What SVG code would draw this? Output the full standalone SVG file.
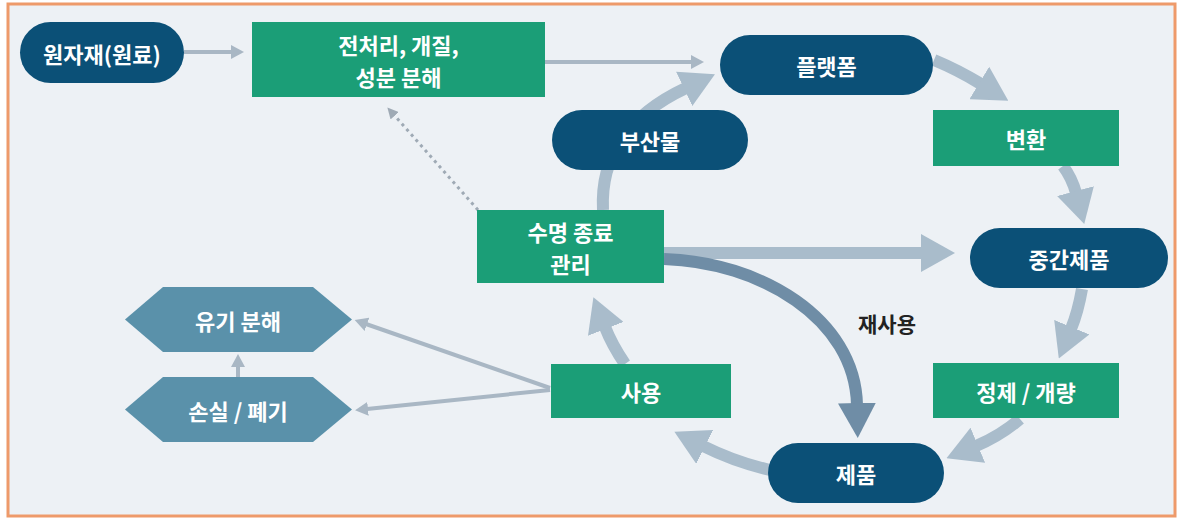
<svg xmlns="http://www.w3.org/2000/svg" width="1181" height="521" viewBox="0 0 1181 521">
<defs>
<style>
.pill{fill:#0B5077}
.box{fill:#1B9E77}
.hex{fill:#5A91AA}
.t{font-family:"Noto Sans CJK KR","Noto Sans",sans-serif;font-weight:bold;font-size:22px;fill:#FFFFFF;text-anchor:middle;dominant-baseline:central}
.lab{font-family:"Noto Sans CJK KR","Noto Sans",sans-serif;font-weight:bold;font-size:21px;fill:#222222;text-anchor:middle;dominant-baseline:central}
.thick{fill:none;stroke:#A9BCCB;stroke-width:12}
.thin{fill:none;stroke:#A9B7C4;stroke-width:4}
.reuse{fill:none;stroke:#6F8DA6;stroke-width:12}
.dot{fill:none;stroke:#9FAAB5;stroke-width:3;stroke-dasharray:3 4}
</style>
<marker id="hL" markerUnits="userSpaceOnUse" markerWidth="34" markerHeight="38" viewBox="0 0 34 38" refX="2" refY="19" orient="auto"><path d="M0,0 L34,19 L0,38 z" fill="#A9BCCB"/></marker>
<marker id="hD" markerUnits="userSpaceOnUse" markerWidth="35" markerHeight="38" viewBox="0 0 35 38" refX="2" refY="19" orient="auto"><path d="M0,0 L35,19 L0,38 z" fill="#6F8DA6"/></marker>
<marker id="hS" markerUnits="userSpaceOnUse" markerWidth="13" markerHeight="14" viewBox="0 0 13 14" refX="1" refY="7" orient="auto"><path d="M0,0 L13,7 L0,14 z" fill="#A9B7C4"/></marker>
<marker id="hT" markerUnits="userSpaceOnUse" markerWidth="11" markerHeight="11" viewBox="0 0 11 11" refX="1" refY="5.5" orient="auto"><path d="M0,0 L11,5.5 L0,11 z" fill="#9FAAB5"/></marker>
</defs>
<rect x="0" y="0" width="1181" height="521" fill="#FFFFFF"/>
<rect x="8" y="4" width="1167" height="512" fill="#EDF1F5" stroke="#EE9A6A" stroke-width="3"/>
<g id="connectors">
<line class="thin" x1="184" y1="52" x2="232" y2="52" marker-end="url(#hS)"/>
<line class="thin" x1="545" y1="62" x2="692" y2="62" marker-end="url(#hS)"/>
<path class="thick" d="M934,60 Q958,70 981,84" marker-end="url(#hL)"/>
<path class="thick" d="M1063,166 Q1072,178 1076,193" marker-end="url(#hL)"/>
<path class="thick" d="M1082,289 Q1078,312 1071,329" marker-end="url(#hL)"/>
<path class="thick" d="M1020,419 Q1000,436 976,446" marker-end="url(#hL)"/>
<path class="thick" d="M770,470 Q735,462 703,446" marker-end="url(#hL)"/>
<path class="thick" d="M625,364 Q612,345 605,327" marker-end="url(#hL)"/>
<path class="thick" d="M603,210 C600,150 635,112 686,88" marker-end="url(#hL)"/>
<path class="thick" d="M664,253 L923,253" marker-end="url(#hL)"/>
<path class="reuse" d="M664,259 C760,262 855,318 857,405" marker-end="url(#hD)"/>
<line class="thin" x1="550" y1="388" x2="366" y2="324" marker-end="url(#hS)"/>
<line class="thin" x1="550" y1="390" x2="367" y2="409" marker-end="url(#hS)"/>
<line class="thin" x1="238" y1="377" x2="238" y2="366" marker-end="url(#hS)"/>
<line class="dot" x1="478" y1="210" x2="394" y2="115" marker-end="url(#hT)"/>
</g>
<g id="n-raw"><rect class="pill" x="20" y="22" width="164" height="61" rx="30.5"/><text class="t" x="102" y="52.5">원자재(원료)</text></g>
<g id="n-pre"><rect class="box" x="252" y="22" width="293" height="75"/><text class="t" x="398.5" y="44">전처리, 개질,</text><text class="t" x="398.5" y="75.5">성분 분해</text></g>
<g id="n-platform"><rect class="pill" x="720" y="35" width="213" height="60" rx="30"/><text class="t" x="826.5" y="65">플랫폼</text></g>
<g id="n-byproduct"><rect class="pill" x="552" y="110" width="196" height="60" rx="30"/><text class="t" x="650" y="140">부산물</text></g>
<g id="n-convert"><rect class="box" x="933" y="110" width="186" height="56"/><text class="t" x="1026" y="138">변환</text></g>
<g id="n-eol"><rect class="box" x="477" y="210" width="187" height="73"/><text class="t" x="570.5" y="231">수명 종료</text><text class="t" x="570.5" y="262.5">관리</text></g>
<g id="n-intermediate"><rect class="pill" x="970" y="228" width="198" height="60" rx="30"/><text class="t" x="1069" y="258">중간제품</text></g>
<g id="n-organic"><polygon class="hex" points="125,319.5 163,287 313,287 352,319.5 313,352 163,352"/><text class="t" x="238" y="319.5">유기 분해</text></g>
<g id="n-loss"><polygon class="hex" points="125,409.5 163,377 313,377 352,409.5 313,442 163,442"/><text class="t" x="238" y="409.5">손실 / 폐기</text></g>
<g id="n-use"><rect class="box" x="551" y="364" width="180" height="54"/><text class="t" x="641" y="391">사용</text></g>
<g id="n-refine"><rect class="box" x="933" y="363" width="186" height="55"/><text class="t" x="1026" y="390.5">정제 / 개량</text></g>
<g id="n-product"><rect class="pill" x="768" y="443" width="176" height="60" rx="30"/><text class="t" x="856" y="473">제품</text></g>
<text class="lab" x="887" y="323">재사용</text>
</svg>
